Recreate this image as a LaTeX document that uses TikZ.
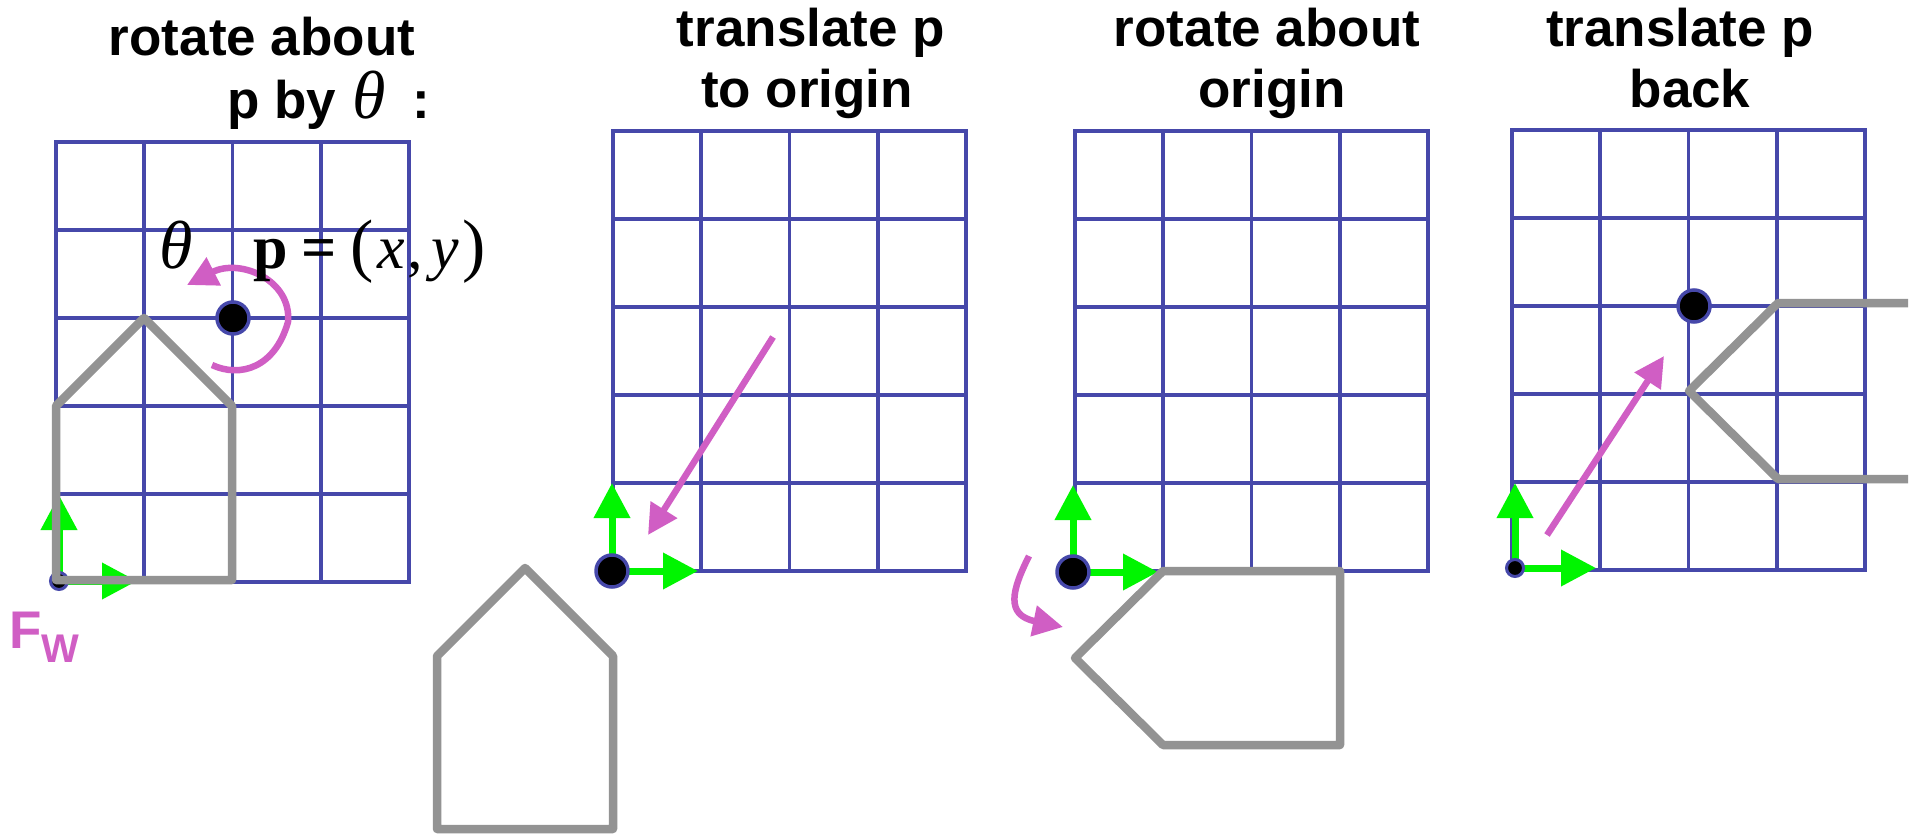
\documentclass[tikz,border=0pt]{standalone}
\usepackage{fontspec}
\setmainfont{Liberation Sans}
\newfontfamily\serifmath{Liberation Serif}
\usetikzlibrary{arrows.meta}
\definecolor{gridblue}{RGB}{70,72,170}
\definecolor{housegray}{RGB}{147,147,147}
\definecolor{axisgreen}{RGB}{0,245,0}
\definecolor{rotmag}{RGB}{208,94,196}
\tikzset{
  gridln/.style={draw=gridblue, line width=3.8pt, line cap=rect},
  house/.style={draw=housegray, line width=8.5pt, line join=round},
  axis/.style={draw=axisgreen, line width=7pt, -{Triangle[length=35pt,width=35pt]}},
  motion/.style={draw=rotmag, line width=6.5pt, -{Triangle[length=30pt,width=30pt]}},
  bigdot/.style={circle, fill=black, draw=gridblue, line width=3.5pt, minimum size=32pt, inner sep=0pt},
  smalldot/.style={circle, fill=black, draw=gridblue, line width=3pt, minimum size=17pt, inner sep=0pt},
  title/.style={font=\fontsize{53}{63}\selectfont\bfseries, inner sep=0pt, anchor=base},
  mathlbl/.style={inner sep=0pt, anchor=base west},
}
\newcommand{\mygrid}[2]{%
  \foreach \i in {0,...,4} \draw[gridln] ({#1+88.25*\i},#2) -- ++(0,-440);
  \foreach \j in {0,...,5} \draw[gridln] (#1,{#2-88*\j}) -- ++(353,0);
}
\newcommand{\bigparen}[1]{{\fontsize{70}{70}\selectfont #1}}
\begin{document}
\begin{tikzpicture}[x=1pt,y=-1pt]
\useasboundingbox[fill=white] (0,0) rectangle (1918,835);

% ---------- titles ----------
\node[title] (t1a) at (262,55) {rotate about};
\node[title, anchor=base west] (t1b) at (227,118) {p by\hspace{2pt} {\serifmath\mdseries\itshape\fontsize{68}{68}\selectfont θ}\hspace{26pt}:};
\node[title] (t2a) at (811,46) {translate p};
\node[title] (t2b) at (807,107) {to origin};
\node[title] (t3a) at (1267,46) {rotate about};
\node[title] (t3b) at (1272,107) {origin};
\node[title] (t4a) at (1680,46) {translate p};
\node[title] (t4b) at (1690,107) {back};

% ---------- grids ----------
\mygrid{56}{582}
\mygrid{613}{571}
\mygrid{1075}{571}
\mygrid{1512}{570}

% ---------- panel 1 ----------
\coordinate (o1) at (59,581);
\draw[axis] (o1) -- (59,495);
\draw[axis] (o1) -- (137,581);
\node[smalldot] (d1) at (o1) {};
\draw[house] (56,580) -- (232,580) -- (232,406) -- (144,318) -- (56,406) -- cycle;
\node[bigdot] (p1) at (233,318) {};
\coordinate (r1s) at (212,365);
\coordinate (r1m) at (288,322);
\coordinate (r1e) at (187,285);
\draw[motion] (r1s) .. controls (240,378) and (275,368) .. (r1m)
  .. controls (292,280) and (240,258) .. (r1e);
\node[mathlbl] (theta) at (159,268) {\serifmath\itshape\fontsize{68}{68}\selectfont θ};
\node[mathlbl] (plabel) at (253,268) {\serifmath\fontsize{62}{64}\selectfont\textbf{p}\hspace{14pt}\textbf{=}\hspace{13pt}\bigparen{(}\hspace{4pt}\textit{x}\hspace{3pt},\hspace{8pt}\textit{y}\hspace{4pt}\bigparen{)}};
\node[inner sep=0pt, anchor=base west, text=rotmag, font=\fontsize{53}{60}\selectfont\bfseries] (fw) at (9,648) {F};
\node[inner sep=0pt, anchor=base west, text=rotmag, font=\fontsize{40}{44}\selectfont\bfseries] (fwsub) at (41,662) {W};

% ---------- panel 2 ----------
\coordinate (o2) at (612,571);
\draw[axis] (o2) -- (612,483);
\draw[axis] (o2) -- (698,571);
\node[bigdot] (d2) at (o2) {};
\coordinate (m2s) at (773,337);
\coordinate (m2e) at (648,535);
\draw[motion] (m2s) -- (m2e);
\draw[house] (437,829) -- (613,829) -- (613,656) -- (525,568) -- (437,656) -- cycle;

% ---------- panel 3 ----------
\coordinate (o3) at (1073,572);
\draw[axis] (o3) -- (1073,485);
\draw[axis] (o3) -- (1158,572);
\node[bigdot] (d3) at (o3) {};
\draw[house] (1163,571) -- (1340,571) -- (1340,745) -- (1163,745) -- (1075,658) -- cycle;
\coordinate (m3s) at (1029,556);
\coordinate (m3e) at (1063,627);
\draw[motion] (m3s) .. controls (1012,590) and (1005,615) .. (m3e);

% ---------- panel 4 ----------
\coordinate (o4) at (1515,568);
\draw[axis] (o4) -- (1515,483);
\draw[axis] (o4) -- (1596,568);
\node[smalldot] (d4) at (o4) {};
\node[bigdot] (p4) at (1694,306) {};
\coordinate (m4s) at (1547,535);
\coordinate (m4e) at (1664,356);
\draw[motion] (m4s) -- (m4e);
\begin{scope}
  \clip (0,0) rectangle (1908,835);
  \draw[house] (1990,303) -- (1778,303) -- (1689,391) -- (1778,479) -- (1990,479);
\end{scope}
\end{tikzpicture}
\end{document}
